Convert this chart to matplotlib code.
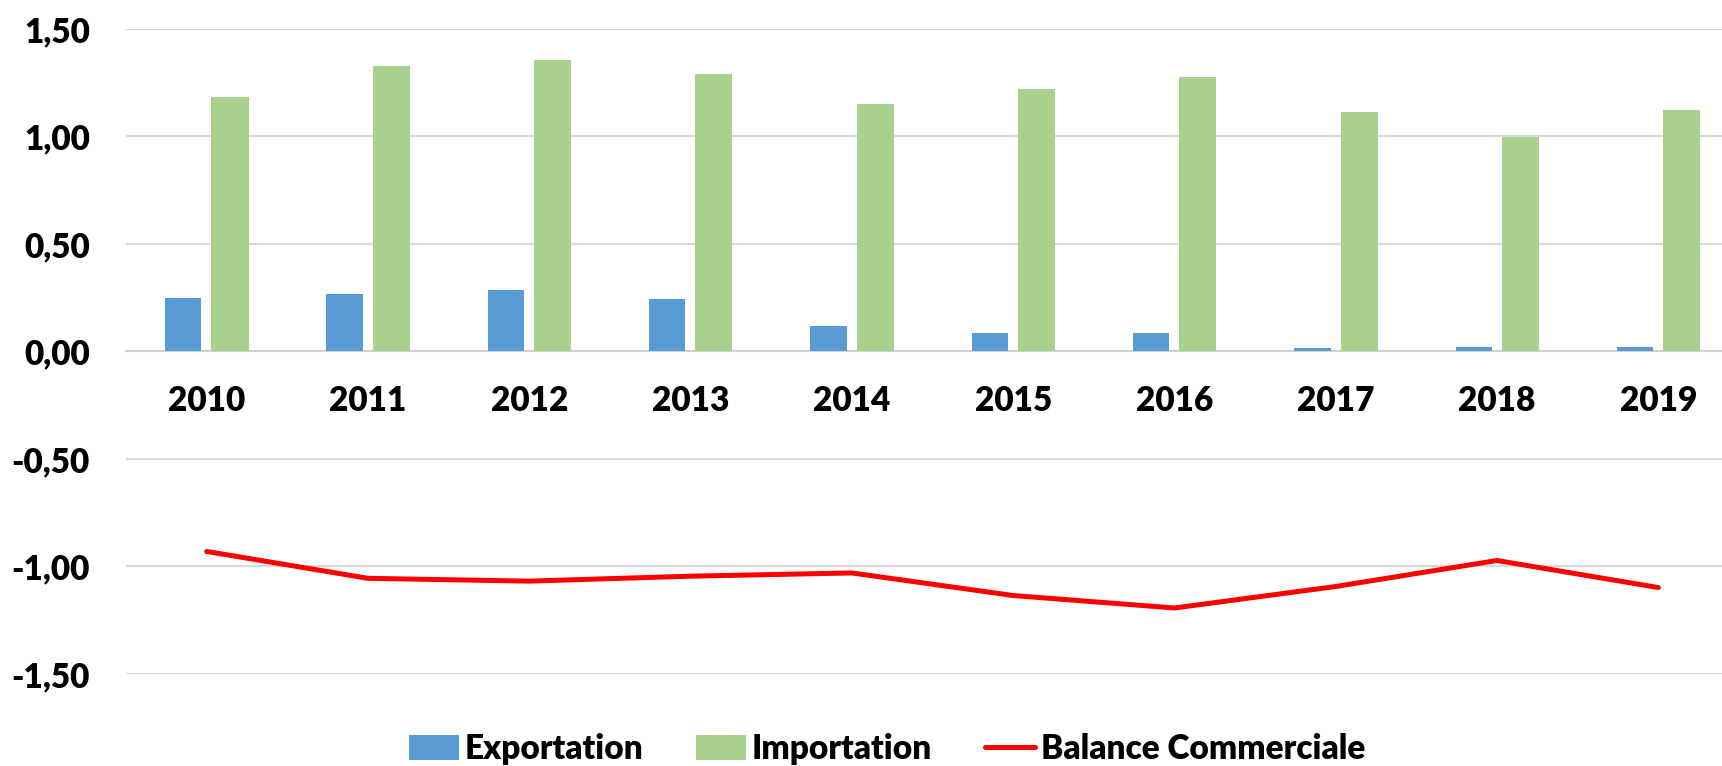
import matplotlib
matplotlib.use('Agg')
import matplotlib.pyplot as plt
from matplotlib.ticker import FuncFormatter
import numpy as np

years = ['2010', '2011', '2012', '2013', '2014', '2015', '2016', '2017', '2018', '2019']
exportation = [0.251, 0.268, 0.284, 0.245, 0.118, 0.084, 0.084, 0.017, 0.022, 0.019]
importation = [1.183, 1.326, 1.357, 1.292, 1.150, 1.220, 1.279, 1.113, 0.997, 1.121]
balance = [-0.930, -1.055, -1.068, -1.045, -1.030, -1.135, -1.193, -1.093, -0.972, -1.098]

plt.rcParams['font.family'] = ['Lato', 'DejaVu Sans']
plt.rcParams['font.weight'] = 'heavy'

fig = plt.figure(figsize=(17.22, 7.66), dpi=100)
ax = fig.add_axes([126 / 1722, 1 - 674 / 766, (1722 - 126) / 1722, (674 - 29) / 766])

x = np.arange(len(years))
b1 = ax.bar(x - 0.145, exportation, 0.225, color='#5B9BD5', label='Exportation', zorder=3)
b2 = ax.bar(x + 0.145, importation, 0.23, color='#A9D18E', label='Importation', zorder=3)
l1, = ax.plot(x, balance, color='#FF0000', lw=3.6, solid_capstyle='round', label='Balance Commerciale', zorder=4)

ax.set_xlim(-0.5, -0.5 + (1722 - 126) / 161.3)
ax.set_ylim(-1.5, 1.5)
ax.set_yticks([-1.5, -1.0, -0.5, 0.0, 0.5, 1.0, 1.5])
ax.yaxis.set_major_formatter(FuncFormatter(lambda v, p: f'{v:.2f}'.replace('.', ',')))
ax.set_xticks(x)
ax.set_xticklabels(years)

for s in ['top', 'right', 'left']:
    ax.spines[s].set_visible(False)
ax.spines['bottom'].set_position(('data', 0))
ax.spines['bottom'].set_color('#d0d0d0')
ax.spines['bottom'].set_linewidth(1.5)
ax.spines['bottom'].set_zorder(2)

ax.grid(True, axis='y', color='#d9d9d9', lw=1.5, zorder=0)
ax.tick_params(axis='both', length=0, labelsize=24)
ax.tick_params(axis='y', pad=26)
ax.tick_params(axis='x', pad=24)

ax.legend([b1, b2, l1], ['Exportation', 'Importation', 'Balance Commerciale'],
          loc='center', bbox_to_anchor=(887 / 1722, 1 - 749 / 766), bbox_transform=fig.transFigure,
          ncol=3, frameon=False, fontsize=24, handlelength=1.5, handleheight=0.75,
          handletextpad=0.16, columnspacing=1.6)

fig.savefig('out.png', dpi=100)
